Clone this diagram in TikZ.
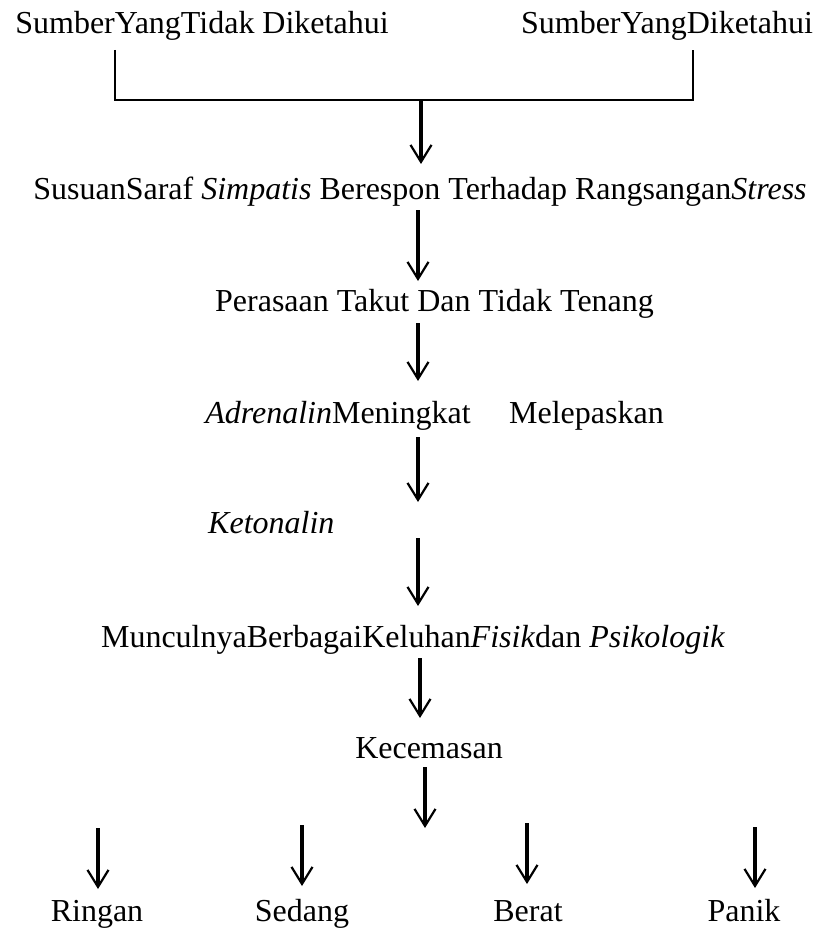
\documentclass[tikz,border=0pt]{standalone}
\usepackage{fontspec}
\setmainfont{Liberation Serif}
\usetikzlibrary{arrows.meta}
\begin{document}
\begin{tikzpicture}[x=1pt,y=-1pt,
  lbl/.style={inner sep=0pt,anchor=base,font=\fontsize{32}{38}\selectfont},
  flow/.style={line width=3.2pt,-{Straight Barb[length=17pt,width=21pt,line width=2.2pt]}},
  bracketline/.style={line width=1.6pt}]
\useasboundingbox (0,0) rectangle (817,928);
% texts
\node[lbl] (t1) at (202,34) {SumberYangTidak Diketahui};
\node[lbl] (t2) at (667,34) {SumberYangDiketahui};
\node[lbl] (s1) at (420,200) {SusuanSaraf \textit{Simpatis} Berespon Terhadap Rangsangan\textit{Stress}};
\node[lbl] (p1) at (434.5,311) {Perasaan Takut Dan Tidak Tenang};
\node[lbl] (a1) at (434.5,423) {\textit{Adrenalin}Meningkat\hspace{0.95em} Melepaskan};
\node[lbl,anchor=base west] (k1) at (208,533) {\textit{Ketonalin}};
\node[lbl] (m1) at (413,647) {MunculnyaBerbagaiKeluhan\textit{Fisik}dan \textit{Psikologik}};
\node[lbl] (c1) at (429,758) {Kecemasan};
\node[lbl] (r1) at (97,921) {Ringan};
\node[lbl] (sd) at (302,921) {Sedang};
\node[lbl] (b1) at (528,921) {Berat};
\node[lbl] (pn) at (744,921) {Panik};
% coordinates
\coordinate (bl) at (115,50);
\coordinate (br) at (693,50);
\coordinate (jn) at (421,100);
\coordinate (s1in) at (421,164);
\coordinate (s1out) at (418,210);
\coordinate (p1in) at (418,281);
\coordinate (p1out) at (418,323);
\coordinate (a1in) at (418,381);
\coordinate (a1out) at (418,437);
\coordinate (k1in) at (418,502);
\coordinate (k1out) at (418,538);
\coordinate (m1in) at (418,606);
\coordinate (m1out) at (420,658);
\coordinate (c1in) at (420,718);
\coordinate (c1out) at (425,767);
\coordinate (c1end) at (425,828);
\coordinate (r1out) at (98,828);
\coordinate (r1in) at (98,889);
\coordinate (sdout) at (302,825);
\coordinate (sdin) at (302,886);
\coordinate (b1out) at (527,823);
\coordinate (b1in) at (527,884);
\coordinate (pnout) at (755,827);
\coordinate (pnin) at (755,888);
% connectors
\draw[bracketline] (bl) |- (br |- jn) -- (br);
\draw[flow] (jn) -- (s1in);
\draw[flow] (s1out) -- (p1in);
\draw[flow] (p1out) -- (a1in);
\draw[flow] (a1out) -- (k1in);
\draw[flow] (k1out) -- (m1in);
\draw[flow] (m1out) -- (c1in);
\draw[flow] (c1out) -- (c1end);
\draw[flow] (r1out) -- (r1in);
\draw[flow] (sdout) -- (sdin);
\draw[flow] (b1out) -- (b1in);
\draw[flow] (pnout) -- (pnin);
\end{tikzpicture}
\end{document}
